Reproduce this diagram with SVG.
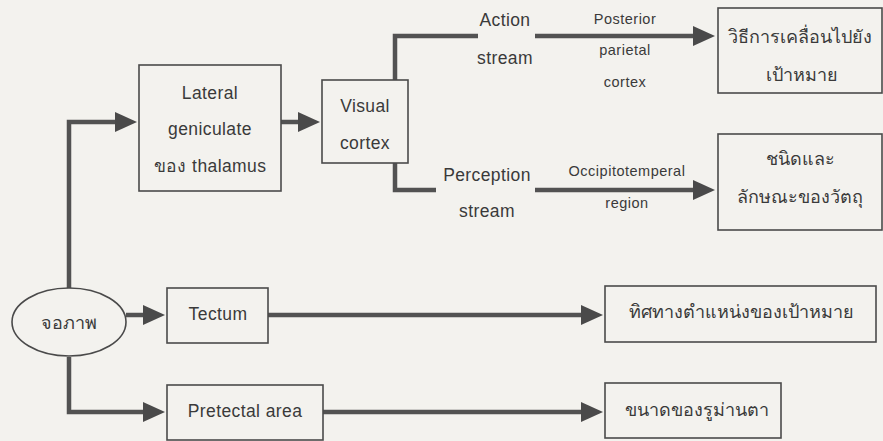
<svg xmlns="http://www.w3.org/2000/svg" width="883" height="441" viewBox="0 0 883 441">
<style>
.bg{fill:#f3f2ee}
.box{fill:none;stroke:#4a4a4a;stroke-width:1.6}
.ln{fill:none;stroke:#525252;stroke-width:4.5;stroke-linejoin:miter}
.t{font-family:"Liberation Sans","Noto Sans",sans-serif;font-size:17.5px;letter-spacing:0.4px;fill:#3a3a3a;text-anchor:middle;dominant-baseline:central}
.s{font-size:14.5px;letter-spacing:0.5px}
.th{font-size:18px;letter-spacing:0}
</style>
<defs>
<marker id="ah" markerUnits="userSpaceOnUse" markerWidth="24" markerHeight="22" refX="12" refY="10" orient="auto">
<path d="M0,0 L22,10 L0,20 Z" fill="#4a4a4a"/>
</marker>
</defs>
<rect class="bg" x="0" y="0" width="883" height="441"/>
<g id="connectors">
<path class="ln" d="M69,288 V122 H127" marker-end="url(#ah)"/>
<line class="ln" x1="281" y1="122" x2="310" y2="122" marker-end="url(#ah)"/>
<path class="ln" d="M395,80 V36 H478"/>
<line class="ln" x1="535" y1="36" x2="705" y2="36" marker-end="url(#ah)"/>
<path class="ln" d="M395,163 V190 H436"/>
<line class="ln" x1="535" y1="190" x2="705" y2="190" marker-end="url(#ah)"/>
<line class="ln" x1="126" y1="315" x2="155" y2="315" marker-end="url(#ah)"/>
<path class="ln" d="M69,357 V412 H155" marker-end="url(#ah)"/>
<line class="ln" x1="268" y1="315" x2="593" y2="315" marker-end="url(#ah)"/>
<line class="ln" x1="323" y1="412" x2="593" y2="412" marker-end="url(#ah)"/>
<text class="t" x="505" y="20">Action</text>
<text class="t" x="505" y="58">stream</text>
<text class="t s" x="625" y="19">Posterior</text>
<text class="t s" x="625" y="50">parietal</text>
<text class="t s" x="625" y="82">cortex</text>
<text class="t" x="487" y="175">Perception</text>
<text class="t" x="487" y="211">stream</text>
<text class="t s" x="627" y="171">Occipitotemperal</text>
<text class="t s" x="627" y="203">region</text>
</g>
<g id="retina">
<ellipse cx="69" cy="322" rx="57" ry="34" fill="none" stroke="#4a4a4a" stroke-width="1.6"/>
<text class="t th" x="69" y="323">จอภาพ</text>
</g>
<g id="lgn">
<rect class="box" x="139" y="65" width="142" height="126"/>
<text class="t" x="210" y="93">Lateral</text>
<text class="t" x="210" y="129">geniculate</text>
<text class="t" x="210" y="166">ของ thalamus</text>
</g>
<g id="visual">
<rect class="box" x="322" y="80" width="86" height="83"/>
<text class="t" x="365" y="106">Visual</text>
<text class="t" x="365" y="143">cortex</text>
</g>
<g id="action-out">
<rect class="box" x="718" y="8" width="164" height="85"/>
<text class="t th" x="800" y="37">วิธีการเคลื่อนไปยัง</text>
<text class="t th" x="802" y="75">เป้าหมาย</text>
</g>
<g id="perception-out">
<rect class="box" x="718" y="134" width="164" height="96"/>
<text class="t th" x="800" y="159">ชนิดและ</text>
<text class="t th" x="800" y="197">ลักษณะของวัตถุ</text>
</g>
<g id="tectum">
<rect class="box" x="167" y="288" width="101" height="55"/>
<text class="t" x="218" y="314">Tectum</text>
</g>
<g id="tectum-out">
<rect class="box" x="605" y="286" width="271" height="56"/>
<text class="t th" x="741" y="312">ทิศทางตำแหน่งของเป้าหมาย</text>
</g>
<g id="pretectal">
<rect class="box" x="167" y="385" width="156" height="55"/>
<text class="t" x="245" y="411">Pretectal area</text>
</g>
<g id="pretectal-out">
<rect class="box" x="605" y="383" width="176" height="55"/>
<text class="t th" x="697" y="410">ขนาดของรูม่านตา</text>
</g>
</svg>
